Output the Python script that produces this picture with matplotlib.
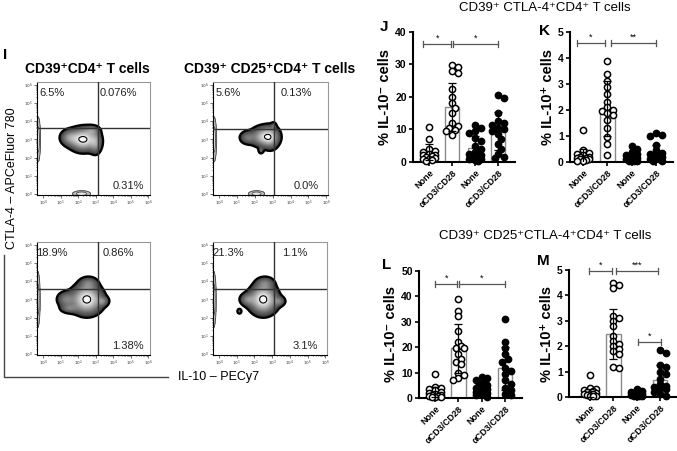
import numpy as np
import matplotlib
matplotlib.use("Agg")
import matplotlib.pyplot as plt
from matplotlib.colors import LinearSegmentedColormap

plt.rcParams['font.family'] = ['Liberation Sans', 'DejaVu Sans']

W, H = 677, 451
fig = plt.figure(figsize=(W / 100, H / 100), dpi=100)


def rect_px(x0, y0, x1, y1):
    return [x0 / W, 1 - y1 / H, (x1 - x0) / W, (y1 - y0) / H]


def ftext(x, y, s, **kw):
    return fig.text(x / W, 1 - y / H, s, **kw)


# ---------------- data: bar/scatter panels ----------------
groups = ["None", "αCD3/CD28", "None", "αCD3/CD28"]
filled = [False, False, True, True]

J_means = [3.0, 16.8, 4.3, 9.6]
J_sds = [2.5, 7.4, 3.8, 5.9]
J_pts = [
    [10.8, 7.2, 4.0, 3.5, 3.0, 2.5, 2.2, 2.0, 1.8, 1.5, 1.2, 1.0, 0.8, 0.5, 0.3],
    [29.8, 29.2, 28.0, 27.5, 22.5, 20.0, 18.0, 16.5, 15.0, 12.0, 11.0, 10.5, 9.8, 9.5, 8.2],
    [11.5, 10.5, 9.5, 9.0, 7.5, 6.5, 5.0, 4.0, 3.0, 2.5, 2.0, 1.5, 1.0, 0.8, 0.5, 0.3],
    [20.5, 19.8, 15.0, 12.5, 12.0, 11.5, 10.5, 10.0, 9.5, 8.5, 7.0, 5.5, 4.0, 2.5, 1.5, 1.2],
]
K_means = [0.2, 2.05, 0.12, 0.28]
K_sds = [0.3, 1.05, 0.18, 0.37]
K_pts = [
    [1.22, 0.45, 0.35, 0.3, 0.25, 0.2, 0.2, 0.15, 0.15, 0.12, 0.1, 0.1, 0.08, 0.05, 0.05],
    [3.9, 3.4, 3.1, 2.9, 2.6, 2.3, 2.1, 2.0, 1.95, 1.9, 1.8, 1.6, 1.3, 0.95, 0.7, 0.25],
    [0.6, 0.5, 0.4, 0.3, 0.25, 0.2, 0.15, 0.12, 0.1, 0.1, 0.08, 0.05, 0.05, 0.03],
    [1.1, 1.05, 1.0, 0.65, 0.45, 0.35, 0.3, 0.3, 0.25, 0.2, 0.2, 0.15, 0.1, 0.1, 0.05, 0.05],
]
L_means = [2.5, 19.5, 3.2, 11.7]
L_sds = [2.0, 9.8, 2.3, 8.5]
L_pts = [
    [9.6, 4.5, 4.0, 3.5, 3.0, 2.5, 2.0, 1.5, 1.2, 1.0, 0.8, 0.6, 0.5, 0.3, 0.2],
    [38.8, 34.2, 32.2, 26.2, 22.2, 20.5, 19.8, 19.5, 17.2, 15.5, 14.0, 13.2, 10.0, 9.0, 8.0, 7.2],
    [8.2, 7.8, 7.0, 6.5, 5.5, 5.0, 4.5, 4.0, 3.5, 3.0, 2.5, 2.0, 1.5, 1.0, 0.5],
    [31.2, 22.2, 19.8, 17.2, 15.5, 14.0, 12.0, 10.5, 9.5, 7.0, 5.5, 4.0, 3.0, 1.5, 1.0],
]
M_means = [0.15, 2.48, 0.08, 0.65]
M_sds = [0.15, 1.0, 0.12, 0.6]
M_pts = [
    [0.88, 0.35, 0.3, 0.28, 0.25, 0.2, 0.15, 0.12, 0.1, 0.1, 0.08, 0.05, 0.05, 0.02],
    [4.5, 4.4, 4.3, 3.2, 3.1, 3.0, 2.8, 2.4, 2.2, 2.1, 2.0, 1.9, 1.8, 1.7, 1.2, 1.15],
    [0.3, 0.25, 0.2, 0.15, 0.12, 0.1, 0.1, 0.08, 0.05, 0.05, 0.03, 0.02],
    [1.85, 1.75, 1.25, 1.2, 1.0, 0.9, 0.7, 0.5, 0.45, 0.4, 0.35, 0.3, 0.2, 0.1, 0.05],
]

# significance brackets: (x_start, x_end, y, label)
J_sig = [(-0.25, 0.95, 36.3, "*"), (1.03, 3.0, 36.3, "*")]
K_sig = [(-0.25, 0.92, 4.57, "*"), (1.15, 3.0, 4.57, "**")]
L_sig = [(0.0, 0.95, 44.8, "*"), (1.03, 3.0, 44.8, "*")]
M_sig = [(-0.05, 0.95, 4.97, "*"), (1.1, 2.9, 4.97, "***"), (2.05, 3.05, 2.17, "*")]


def swarm_offsets(vals, ppx, ppy, diam=5.6, maxoff=0.33):
    placed = []
    order = np.argsort(vals)[::-1]
    res = np.zeros(len(vals))
    for i in order:
        y = vals[i] * ppy
        best = None
        bestd = -1
        for k in range(0, 14):
            c = ((k + 1) // 2) * (1 if k % 2 else -1) * diam * 0.5
            if abs(c / ppx) > maxoff:
                continue
            d = min([np.hypot(c - px, y - py) for px, py in placed] + [1e9])
            if d >= diam * 0.9:
                best = c
                break
            if d > bestd:
                bestd = d
                best = c
        placed.append((best, y))
        res[i] = best / ppx
    return res


def bar_panel(px_box, xlim, ylim, yticks, means, sds, pts, sig, ylabel, letter, letter_xy):
    x0, y0, x1, y1 = px_box
    ax = fig.add_axes(rect_px(*px_box))
    ax.set_xlim(*xlim)
    ax.set_ylim(*ylim)
    xs = np.arange(len(groups))
    ax.bar(xs, means, width=0.62, color='white', edgecolor='#8a8a8a', linewidth=1.0, zorder=1)
    ppx = (x1 - x0) / (xlim[1] - xlim[0])
    ppy = (y1 - y0) / (ylim[1] - ylim[0])
    for i, (vals, f) in enumerate(zip(pts, filled)):
        vals = np.array(vals, dtype=float)
        off = swarm_offsets(vals, ppx, ppy)
        ax.scatter(xs[i] + off, vals, s=20, facecolor='black' if f else 'white',
                   edgecolor='black', linewidth=1.1, zorder=3, clip_on=False)
    ax.errorbar(xs, means, yerr=sds, fmt='none', ecolor='black', elinewidth=0.9,
                capsize=2.8, capthick=0.9, zorder=4)
    for xa, xb, yy, lab in sig:
        ax.plot([xa, xb], [yy, yy], color='#555555', lw=0.9, zorder=5, clip_on=False)
        dy = (ylim[1] - ylim[0]) * 0.022
        for xe in (xa, xb):
            ax.plot([xe, xe], [yy - dy, yy + dy], color='#555555', lw=0.9, zorder=5, clip_on=False)
        ax.text((xa + xb) / 2, yy + dy * 0.4, lab, ha='center', va='bottom', fontsize=6.5)
    for s in ('top', 'right'):
        ax.spines[s].set_visible(False)
    for s in ('left', 'bottom'):
        ax.spines[s].set_linewidth(1.5)
    ax.set_yticks(yticks)
    ax.set_yticklabels([str(t) for t in yticks], fontsize=7.5, fontweight='bold')
    ax.set_xticks(xs)
    ax.set_xticklabels(groups, rotation=45, ha='right', rotation_mode='anchor',
                       fontsize=6.5, fontweight='bold')
    ax.tick_params(axis='both', length=3, width=1.2, pad=1.5)
    ax.set_ylabel(ylabel, fontsize=10.5, fontweight='bold', labelpad=2)
    ftext(letter_xy[0], letter_xy[1], letter, fontsize=11, fontweight='bold', ha='center', va='center')
    return ax


bar_panel((413, 32, 515, 162), (-0.7, 3.74), (0, 40), [0, 10, 20, 30, 40],
          J_means, J_sds, J_pts, J_sig, "% IL-10⁻ cells", "J", (384, 27))
bar_panel((570, 32, 673, 162), (-0.53, 3.7), (0, 5), [0, 1, 2, 3, 4, 5],
          K_means, K_sds, K_pts, K_sig, "% IL-10⁺ cells", "K", (545, 31))
bar_panel((419, 271, 522, 398), (-0.69, 3.73), (0, 50), [0, 10, 20, 30, 40, 50],
          L_means, L_sds, L_pts, L_sig, "% IL-10⁻ cells", "L", (387, 265))
bar_panel((569, 270, 677, 397), (-0.9, 3.73), (0, 5), [0, 1, 2, 3, 4, 5],
          M_means, M_sds, M_pts, M_sig, "% IL-10⁺ cells", "M", (543, 261))

ftext(545, 8, "CD39⁺ CTLA-4⁺CD4⁺ T cells", fontsize=9.5, ha='center', va='center')
ftext(545, 236, "CD39⁺ CD25⁺CTLA-4⁺CD4⁺ T cells", fontsize=9.5, ha='center', va='center')

# ---------------- data: flow cytometry panels ----------------
flow_titles = ["CD39⁺CD4⁺ T cells", "CD39⁺ CD25⁺CD4⁺ T cells"]
flow_pcts = [
    ["6.5%", "0.076%", "0.31%"],
    ["5.6%", "0.13%", "0.0%"],
    ["18.9%", "0.86%", "1.38%"],
    ["21.3%", "1.1%", "3.1%"],
]
# gate positions (log10 decades): (x gate, y gate)
flow_gates = [(3.14, 3.6), (3.1, 3.55), (3.14, 3.57), (3.1, 3.55)]
# main population components (log10 decades): centre x, centre y, sd x, sd y, weight
flow_cx = [[2.3, 1.5, 3.0, 2.8], [2.55, 1.6, 2.9, 2.35, 3.05],
           [2.5, 1.3, 3.4, 1.5, 2.6], [2.5, 1.6, 3.4, 2.6, 1.15]]
flow_cy = [[3.0, 3.1, 2.8, 3.5], [3.15, 3.1, 3.1, 2.4, 3.75],
           [3.0, 3.0, 2.9, 2.5, 3.9], [3.0, 3.0, 2.9, 3.9, 2.35]]
flow_sx = [[0.45, 0.3, 0.2, 0.25], [0.4, 0.25, 0.25, 0.08, 0.08],
           [0.5, 0.3, 0.2, 0.3, 0.3], [0.45, 0.25, 0.2, 0.3, 0.07]]
flow_sy = [[0.35, 0.25, 0.35, 0.15], [0.3, 0.2, 0.35, 0.1, 0.1],
           [0.45, 0.25, 0.15, 0.15, 0.2], [0.45, 0.2, 0.15, 0.2, 0.08]]
flow_w = [[1.0, 0.4, 0.4, 0.3], [1.0, 0.4, 0.5, 0.3, 0.3],
          [1.0, 0.35, 0.3, 0.3, 0.3], [1.0, 0.35, 0.3, 0.3, 0.3]]
# faint events piled on the axes: centre x, centre y, sd x, sd y
edge_cx = [[-0.28, 2.2], [-0.28, 2.1], [-0.3], [-0.3]]
edge_cy = [[3.0, 0.02], [3.0, 0.02], [3.0], [3.0]]
edge_sx = [[0.07, 0.25], [0.07, 0.22], [0.07], [0.07]]
edge_sy = [[0.6, 0.08], [0.6, 0.08], [0.75], [0.75]]

flow_boxes = [(37, 82, 150, 195), (213, 82, 328, 195), (37, 242, 150, 355), (213, 242, 327, 355)]
XL, YL = (-0.34, 6.1), (-0.05, 6.15)

shade = LinearSegmentedColormap.from_list(
    "shade", [(0.0, '0.12'), (0.08, '0.3'), (0.45, '0.6'), (0.8, '0.85'), (0.9, '0.95'), (1.0, '1.0')])

gx = np.linspace(XL[0] - 0.3, XL[1], 500)
gy = np.linspace(YL[0] - 0.3, YL[1], 500)
GX, GY = np.meshgrid(gx, gy)


def mixture(cxs, cys, sxs, sys_, ws):
    Z = np.zeros_like(GX)
    for cx, cy, sx, sy, w in zip(cxs, cys, sxs, sys_, ws):
        Z += w * np.exp(-0.5 * (((GX - cx) / sx) ** 2 + ((GY - cy) / sy) ** 2))
    return Z


for k, box in enumerate(flow_boxes):
    ax = fig.add_axes(rect_px(*box))
    ax.set_xlim(*XL)
    ax.set_ylim(*YL)
    # edge events
    E = mixture(edge_cx[k], edge_cy[k], edge_sx[k], edge_sy[k], [1.0] * len(edge_cx[k]))
    ax.contourf(GX, GY, E, levels=[0.12, 0.5, 1.01], colors=['0.75', '0.9'], zorder=1)
    ax.contour(GX, GY, E, levels=[0.12, 0.5], colors='#444444', linewidths=0.6, zorder=1)
    Z = mixture(flow_cx[k], flow_cy[k], flow_sx[k], flow_sy[k], flow_w[k])
    thr = 0.08
    norm = np.ma.masked_less((Z - thr) / (Z.max() - thr), 0.0)
    ax.imshow(norm, extent=(gx[0], gx[-1], gy[0], gy[-1]), origin='lower', cmap=shade,
              vmin=0, vmax=1, interpolation='bilinear', aspect='auto', zorder=2)
    ax.contour(GX, GY, Z, levels=[thr], colors='black', linewidths=1.6, zorder=3)
    ax.contour(GX, GY, Z, levels=[thr + 0.9 * (Z.max() - thr)], colors='black',
               linewidths=0.8, zorder=3)
    ax.set_xlim(*XL)
    ax.set_ylim(*YL)
    gxv, gyv = flow_gates[k]
    ax.axvline(gxv, color='#333333', lw=1.0, zorder=4)
    ax.axhline(gyv, color='#333333', lw=1.0, zorder=4)
    for s in ax.spines.values():
        s.set_color('#999999')
        s.set_linewidth(0.8)
    ax.spines['left'].set_color('black')
    ax.spines['bottom'].set_color('black')
    dec = np.arange(0, 7)
    ax.set_xticks(dec)
    ax.set_yticks(dec)
    ax.set_xticklabels([f"$10^{{{d}}}$" for d in dec], fontsize=3)
    ax.set_yticklabels([f"$10^{{{d}}}$" for d in dec], fontsize=3)
    minor = np.concatenate([d + np.log10(np.arange(2, 10)) for d in range(0, 6)])
    ax.set_xticks(minor, minor=True)
    ax.set_yticks(minor, minor=True)
    ax.tick_params(length=2, width=0.5, pad=1, colors='#333333')
    ax.tick_params(which='minor', length=1, width=0.4)
    tl, tr, br = flow_pcts[k]
    x0, y0, x1, y1 = box
    ftext(x0 + 15, y0 + 11, tl, fontsize=8, ha='center', va='center', color='#222222')
    ftext(x1 - 32, y0 + 11, tr, fontsize=8, ha='center', va='center', color='#222222')
    ftext(x1 - 22, y1 - 9, br, fontsize=8, ha='center', va='center', color='#222222')

ftext(87, 69, flow_titles[0], fontsize=10, fontweight='bold', ha='center', va='center')
ftext(270, 69, flow_titles[1], fontsize=10, fontweight='bold', ha='center', va='center')
ftext(5, 55, "I", fontsize=11, fontweight='bold', ha='center', va='center')
ftext(12, 178, "CTLA-4 – APCeFluor 780", fontsize=9, rotation=90, ha='center', va='center')
ftext(219, 377, "IL-10 – PECy7", fontsize=9, ha='center', va='center')

# L-shaped axis guide
lax = fig.add_axes([0, 0, 1, 1], facecolor='none')
lax.set_xlim(0, W)
lax.set_ylim(H, 0)
lax.axis('off')
lax.plot([4, 4, 168], [255, 377, 377], color='#444444', lw=1.0)

fig.savefig("out.png", dpi=100)
